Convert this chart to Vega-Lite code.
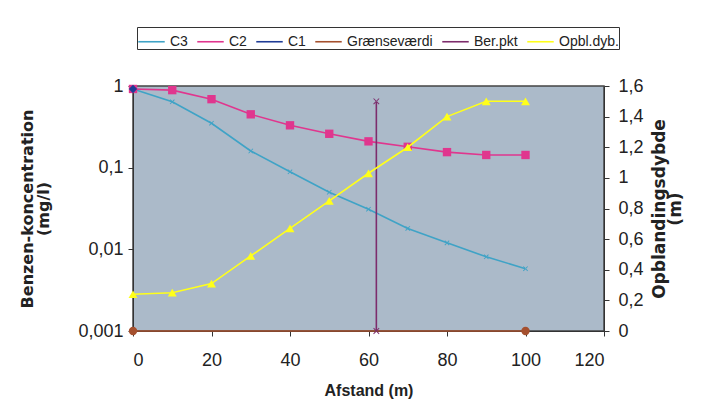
{
  "$schema": "https://vega.github.io/schema/vega-lite/v6.json",
  "autosize": {"type": "none"},
  "width": 471,
  "height": 245,
  "padding": {"left": 133, "top": 86, "right": 106, "bottom": 86},
  "background": "white",
  "config": {
    "view": {"fill": "#abbac9", "stroke": "#444444", "strokeWidth": 1.5},
    "font": "Liberation Sans",
    "axis": {"labelFont": "Liberation Sans", "labelFontSize": 18, "labelColor": "#222222", "titleFont": "Liberation Sans", "titleFontWeight": "bold", "titleColor": "#222222", "domainColor": "#333333", "tickColor": "#333333", "grid": false}
  },
  "data": {"values": [
    {"x": 0, "series": "C3", "y": 0.92},
    {"x": 10, "series": "C3", "y": 0.64},
    {"x": 20, "series": "C3", "y": 0.35},
    {"x": 30, "series": "C3", "y": 0.16},
    {"x": 40, "series": "C3", "y": 0.089},
    {"x": 50, "series": "C3", "y": 0.05},
    {"x": 60, "series": "C3", "y": 0.031},
    {"x": 70, "series": "C3", "y": 0.018},
    {"x": 80, "series": "C3", "y": 0.012},
    {"x": 90, "series": "C3", "y": 0.0081},
    {"x": 100, "series": "C3", "y": 0.0058},
    {"x": 0, "series": "C2", "y": 0.92},
    {"x": 10, "series": "C2", "y": 0.89},
    {"x": 20, "series": "C2", "y": 0.69},
    {"x": 30, "series": "C2", "y": 0.45},
    {"x": 40, "series": "C2", "y": 0.33},
    {"x": 50, "series": "C2", "y": 0.26},
    {"x": 60, "series": "C2", "y": 0.21},
    {"x": 70, "series": "C2", "y": 0.18},
    {"x": 80, "series": "C2", "y": 0.155},
    {"x": 90, "series": "C2", "y": 0.143},
    {"x": 100, "series": "C2", "y": 0.143},
    {"x": 0, "series": "C1", "y": 0.92},
    {"x": 0, "series": "Grænseværdi", "y": 0.001},
    {"x": 100, "series": "Grænseværdi", "y": 0.001},
    {"x": 62, "series": "Ber.pkt", "y": 0},
    {"x": 62, "series": "Ber.pkt", "y": 1.5},
    {"x": 0, "series": "Opbl.dyb.", "y": 0.24},
    {"x": 10, "series": "Opbl.dyb.", "y": 0.25},
    {"x": 20, "series": "Opbl.dyb.", "y": 0.31},
    {"x": 30, "series": "Opbl.dyb.", "y": 0.49},
    {"x": 40, "series": "Opbl.dyb.", "y": 0.67},
    {"x": 50, "series": "Opbl.dyb.", "y": 0.85},
    {"x": 60, "series": "Opbl.dyb.", "y": 1.03},
    {"x": 70, "series": "Opbl.dyb.", "y": 1.2},
    {"x": 80, "series": "Opbl.dyb.", "y": 1.4},
    {"x": 90, "series": "Opbl.dyb.", "y": 1.5},
    {"x": 100, "series": "Opbl.dyb.", "y": 1.5}
  ]},
  "encoding": {
    "x": {"field": "x", "type": "quantitative", "title": "Afstand (m)",
      "scale": {"domain": [0, 120], "nice": false},
      "axis": {"values": [0, 20, 40, 60, 80, 100, 120], "tickSize": 5, "labelPadding": 15, "titleFontSize": 16, "titlePadding": 13, "domain": true}
    }
  },
  "layer": [
    {
      "transform": [{"filter": "datum.series === 'C3' || datum.series === 'C2' || datum.series === 'C1' || datum.series === 'Grænseværdi'"}],
      "encoding": {
        "y": {"field": "y", "type": "quantitative", "title": ["Benzen-koncentration", "(mg/l)"],
          "scale": {"type": "log", "domain": [0.001, 1], "nice": false},
          "axis": {"orient": "left", "values": [0.001, 0.01, 0.1, 1], "labelExpr": "replace(format(datum.value, '~g'), '.', ',')", "tickSize": 5, "labelPadding": 5, "titleFont": "DejaVu Sans", "titleFontSize": 16, "titleLineHeight": 16, "titlePadding": 26}
        }
      },
      "layer": [
        {"mark": {"type": "line", "strokeWidth": 1.6},
          "encoding": {"stroke": {"field": "series", "type": "nominal", "title": null,
            "scale": {"domain": ["Opbl.dyb.", "Ber.pkt", "Grænseværdi", "C1", "C2", "C3"],
              "range": ["#ffff1a", "#7d2c6c", "#a5502e", "#1f3c96", "#e0368e", "#3fa3c6"]},
            "legend": {"orient": "none", "legendX": 4, "legendY": -59, "direction": "horizontal",
              "values": ["C3", "C2", "C1", "Grænseværdi", "Ber.pkt", "Opbl.dyb."],
              "strokeColor": "#333333", "padding": 0, "symbolSize": 700, "symbolStrokeWidth": 1.6,
              "labelFontSize": 14, "labelOffset": 4, "columnPadding": 6, "labelFont": "Liberation Sans", "labelColor": "#222222"}}}},
        {"mark": {"type": "point", "filled": true, "opacity": 1},
          "encoding": {
            "color": {"field": "series", "type": "nominal", "title": null, "legend": null,
              "scale": {"domain": ["C3", "C2", "C1", "Grænseværdi", "Ber.pkt", "Opbl.dyb."],
                "range": ["#3fa3c6", "#e0368e", "#1f3c96", "#a5502e", "#7d2c6c", "#ffff1a"]}},
            "shape": {"field": "series", "type": "nominal", "title": null, "legend": null,
              "scale": {"domain": ["C3", "C2", "C1", "Grænseværdi", "Ber.pkt", "Opbl.dyb."],
                "range": ["M-0.6,-0.45L-0.45,-0.6L0.6,0.45L0.45,0.6Z M-0.6,0.45L-0.45,0.6L0.6,-0.45L0.45,-0.6Z", "square", "diamond", "circle", "M-0.7,-0.55L-0.55,-0.7L0.7,0.55L0.55,0.7Z M-0.7,0.55L-0.55,0.7L0.7,-0.55L0.55,-0.7Z", "triangle-up"]}},
            "size": {"value": 70}}}
      ]
    },
    {
      "transform": [{"filter": "datum.series === 'Ber.pkt' || datum.series === 'Opbl.dyb.'"}],
      "encoding": {
        "y": {"field": "y", "type": "quantitative", "title": ["Opblandingsdybde", "(m)"],
          "scale": {"domain": [0, 1.6], "nice": false},
          "axis": {"orient": "right", "values": [0, 0.2, 0.4, 0.6, 0.8, 1, 1.2, 1.4, 1.6], "labelExpr": "replace(format(datum.value, '~g'), '.', ',')", "tickSize": 5, "labelPadding": 9, "titleFont": "DejaVu Sans", "titleFontSize": 17, "titleLineHeight": 16, "titlePadding": 9, "titleAngle": 270}
        }
      },
      "layer": [
        {"mark": {"type": "line", "strokeWidth": 1.6},
          "encoding": {"stroke": {"field": "series", "type": "nominal", "title": null}}},
        {"mark": {"type": "point", "filled": true, "opacity": 1},
          "encoding": {"color": {"field": "series", "type": "nominal", "title": null, "legend": null},
            "shape": {"field": "series", "type": "nominal", "title": null, "legend": null},
            "size": {"value": 80}}}
      ]
    }
  ],
  "resolve": {"scale": {"y": "independent"}}
}
